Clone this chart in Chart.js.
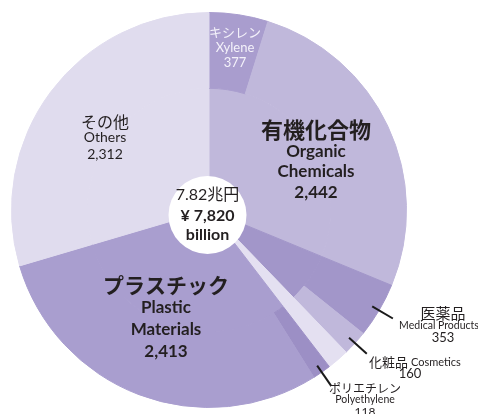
<!DOCTYPE html>
<html>
<head>
<meta charset="utf-8">
<script src="https://cdn.jsdelivr.net/npm/chart.js@4.4.1/dist/chart.umd.min.js"></script>
<style>
  html, body { margin: 0; padding: 0; background: #fff; }
  #wrap { width: 478px; height: 414px; position: relative; }
</style>
</head>
<body>
<div id="wrap"><canvas id="pie"></canvas></div>
<script>
// values in ¥ billion
const sliceNamesJa = ['キシレン', '有機化合物', '医薬品', '化粧品', 'ポリエチレン', 'プラスチック', 'その他'];
const sliceNamesEn = ['Xylene', 'Organic Chemicals', 'Medical Products', 'Cosmetics', 'Polyethylene', 'Plastic Materials', 'Others'];
const sliceValues = [377, 2442, 353, 160, 118, 2413, 2312];
const totalLabelJa = '7.82兆円';
const totalValue = 7820;

const val = {};
sliceNamesEn.forEach((n, i) => { val[n] = sliceValues[i]; });
// part of the total that has no label (pale wedge between cosmetics and plastics)
const unlabeled = totalValue - (val['Organic Chemicals'] + val['Medical Products'] + val['Cosmetics'] + val['Plastic Materials'] + val['Others']);

const C = {
  others: '#e0dcee',
  organic: '#c0b8db',
  xylene: '#a99dce',
  medical: '#a296c9',
  cosmetics: '#c0b8db',
  pale: '#e4e0f1',
  poly: '#9c8fc5',
  plastic: '#a99ecf'
};

// outer ring: sub-items drawn over the outer part of their parent slice
const outerRing = [
  val['Xylene'],
  val['Organic Chemicals'] - val['Xylene'],
  val['Medical Products'],
  val['Cosmetics'],
  unlabeled,
  val['Polyethylene'],
  val['Plastic Materials'] - val['Polyethylene'],
  val['Others']
];
const outerColors = [C.xylene, C.organic, C.medical, C.cosmetics, C.pale, C.poly, C.plastic, C.others];

const innerRing = [
  val['Organic Chemicals'],
  val['Medical Products'] + val['Cosmetics'],
  unlabeled,
  val['Plastic Materials'],
  val['Others']
];
const innerColors = [C.organic, C.medical, C.pale, C.plastic, C.others];

const fmt = n => n.toLocaleString('en-US');
const JP = "'Noto Sans CJK JP', sans-serif";
const LAT = "Lato, 'Noto Sans CJK JP', sans-serif";
const INK = '#231f20';

function drawLines(ctx, x, y, lines, color) {
  ctx.fillStyle = color;
  ctx.textBaseline = 'middle';
  lines.forEach(l => {
    ctx.font = l.f;
    ctx.textAlign = l.a || 'center';
    ctx.fillText(l.t, x + (l.dx || 0), y + l.dy);
  });
}

const labelPlugin = {
  id: 'sliceLabels',
  afterDatasetsDraw(chart) {
    const ctx = chart.ctx;
    const outer = chart.getDatasetMeta(0).data;
    const cx = outer[0].x, cy = outer[0].y, R = outer[0].outerRadius;
    ctx.save();

    // leader lines for the small slices
    ctx.strokeStyle = '#1a1a1a';
    ctx.lineWidth = 2;
    [2, 3, 5].forEach(i => {
      const a = (outer[i].startAngle + outer[i].endAngle) / 2;
      ctx.beginPath();
      ctx.moveTo(cx + Math.cos(a) * (R - 8), cy + Math.sin(a) * (R - 8));
      ctx.lineTo(cx + Math.cos(a) * (R + 16), cy + Math.sin(a) * (R + 16));
      ctx.stroke();
    });

    // centre disc with the total
    ctx.fillStyle = '#fff';
    ctx.beginPath();
    ctx.arc(cx - 1.5, cy + 5, 39, 0, Math.PI * 2);
    ctx.fill();
    drawLines(ctx, cx - 1.5, cy, [
      { t: totalLabelJa, f: '16px ' + LAT, dy: -15 },
      { t: '¥ ' + fmt(totalValue), f: 'bold 16px ' + LAT, dy: 6 },
      { t: 'billion', f: 'bold 16px ' + LAT, dy: 25 }
    ], INK);

    // xylene (white, inside the slice)
    drawLines(ctx, cx + 26, cy, [
      { t: sliceNamesJa[0], f: '13px ' + JP, dy: -178 },
      { t: sliceNamesEn[0], f: '13px ' + LAT, dy: -162 },
      { t: fmt(sliceValues[0]), f: '13px ' + LAT, dy: -147 }
    ], '#f4f2fa');

    // organic chemicals
    drawLines(ctx, cx + 107, cy, [
      { t: sliceNamesJa[1], f: 'bold 22px ' + JP, dy: -80 },
      { t: 'Organic', f: 'bold 17px ' + LAT, dy: -58 },
      { t: 'Chemicals', f: 'bold 17px ' + LAT, dy: -38 },
      { t: fmt(sliceValues[1]), f: 'bold 17px ' + LAT, dy: -17 }
    ], INK);

    // others
    drawLines(ctx, cx - 104, cy, [
      { t: sliceNamesJa[6], f: '16px ' + JP, dy: -88 },
      { t: sliceNamesEn[6], f: '14px ' + LAT, dy: -73 },
      { t: fmt(sliceValues[6]), f: '14px ' + LAT, dy: -56 }
    ], INK);

    // plastic materials
    drawLines(ctx, cx - 43, cy, [
      { t: sliceNamesJa[5], f: 'bold 21px ' + JP, dy: 75 },
      { t: 'Plastic', f: 'bold 17px ' + LAT, dy: 98 },
      { t: 'Materials', f: 'bold 17px ' + LAT, dy: 120 },
      { t: fmt(sliceValues[5]), f: 'bold 17px ' + LAT, dy: 142 }
    ], INK);

    // medical products
    drawLines(ctx, cx + 234, cy, [
      { t: sliceNamesJa[2], f: '15px ' + JP, dy: 103 },
      { t: sliceNamesEn[2], f: '10.5px ' + LAT, dx: -4, dy: 116 },
      { t: fmt(sliceValues[2]), f: '13px ' + LAT, dy: 128 }
    ], INK);

    // cosmetics
    drawLines(ctx, cx + 160, cy, [
      { t: sliceNamesJa[3], f: '13px ' + JP, a: 'left', dy: 152 },
      { t: sliceNamesEn[3], f: '11px ' + LAT, a: 'left', dx: 42, dy: 152 },
      { t: fmt(sliceValues[3]), f: '13px ' + LAT, dx: 41, dy: 164 }
    ], INK);

    // polyethylene
    drawLines(ctx, cx + 156, cy, [
      { t: sliceNamesJa[4], f: '12px ' + JP, dy: 178 },
      { t: sliceNamesEn[4], f: '10.5px ' + LAT, dy: 190 },
      { t: fmt(sliceValues[4]), f: '12px ' + LAT, dy: 202 }
    ], INK);

    ctx.restore();
  }
};

new Chart(document.getElementById('pie'), {
  type: 'pie',
  data: {
    labels: outerRing.map((_, i) => 'outer' + i),
    datasets: [
      {
        data: outerRing,
        backgroundColor: outerColors,
        borderColor: outerColors,
        borderWidth: 1,
        weight: 76
      },
      {
        data: innerRing,
        backgroundColor: innerColors,
        borderColor: innerColors,
        borderWidth: 1,
        weight: 122
      }
    ]
  },
  options: {
    responsive: true,
    maintainAspectRatio: false,
    animation: false,
    layout: { padding: { left: 11, right: 71, top: 12, bottom: 6 } },
    plugins: {
      legend: { display: false },
      tooltip: { enabled: false }
    }
  },
  plugins: [labelPlugin]
});
</script>
</body>
</html>
